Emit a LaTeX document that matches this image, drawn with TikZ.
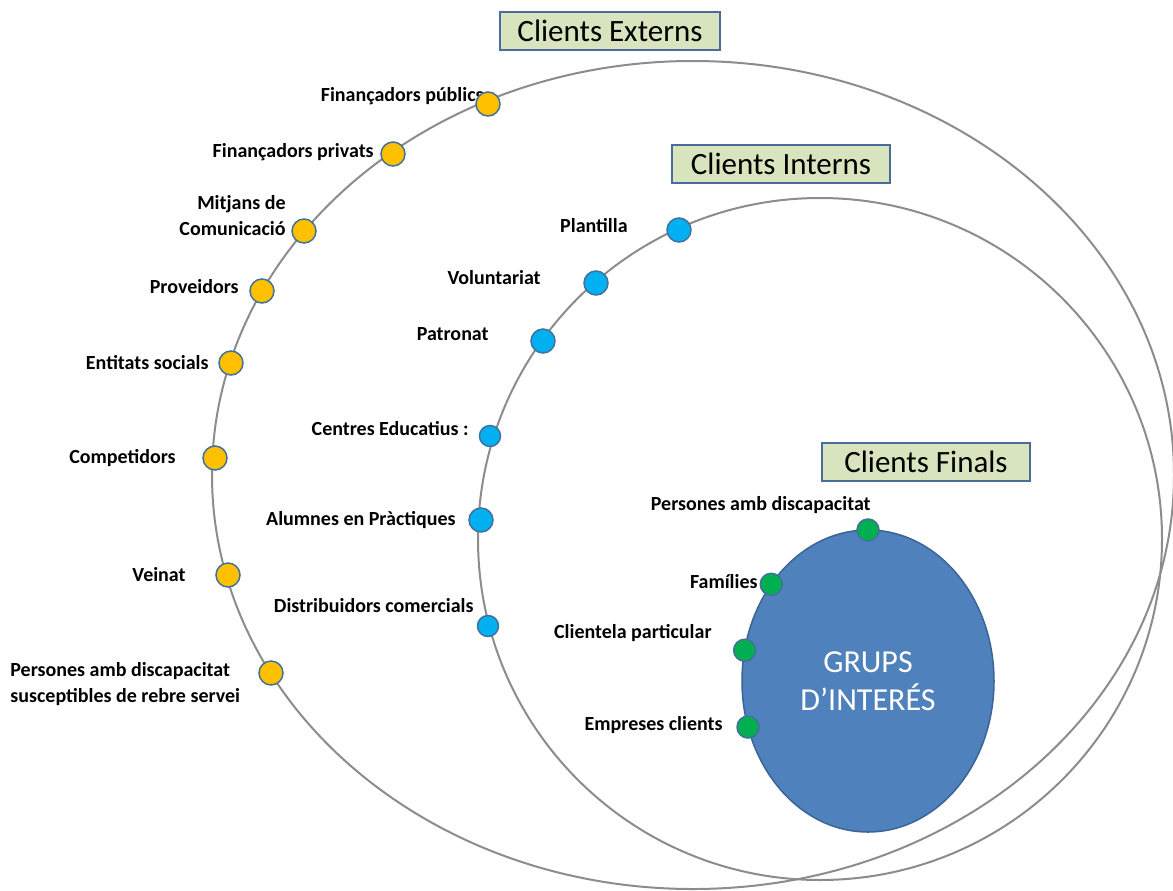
\documentclass[tikz,border=0pt]{standalone}
\usepackage{fontspec}
\setmainfont{Carlito}
\usetikzlibrary{shapes.geometric}

\definecolor{ringgray}{HTML}{8C8C8C}
\definecolor{dotyellow}{HTML}{FFC000}
\definecolor{dotblue}{HTML}{00B0F0}
\definecolor{dotgreen}{HTML}{00B050}
\definecolor{dotedge}{HTML}{41719C}
\definecolor{grupsfill}{HTML}{4F81BD}
\definecolor{grupsedge}{HTML}{3A6496}
\definecolor{boxfill}{HTML}{D8E4BD}
\definecolor{boxedge}{HTML}{4A6C9B}

\tikzset{
  ring/.style={draw=ringgray,line width=1pt},
  dot/.style={circle,draw=dotedge,line width=0.75pt,minimum size=12pt,inner sep=0pt,outer sep=0pt},
  ydot/.style={dot,fill=dotyellow},
  bdot/.style={dot,fill=dotblue},
  gdot/.style={dot,fill=dotgreen,minimum size=11pt},
  lbl/.style={font=\bfseries\fontsize{10}{13}\selectfont,inner sep=0pt,align=right},
  titlebox/.style={draw=boxedge,fill=boxfill,line width=1pt,font=\fontsize{15.5}{18}\selectfont,
    minimum height=19pt,inner sep=2pt}
}

\begin{document}
\begin{tikzpicture}[x=0.5pt,y=-0.5pt]
  \useasboundingbox (0,0) rectangle (1173,890);

  % Draw the two rings
  \draw[ring] (693,475) ellipse [x radius=481, y radius=414];
  \draw[ring] (820,539) ellipse [x radius=342, y radius=341];

  % Ring titles
  \node[titlebox,minimum width=110pt] (externs) at (610,31) {Clients Externs};
  \node[titlebox,minimum width=109pt] (interns) at (781,164) {Clients Interns};
  \node[titlebox,minimum width=104pt] (finals) at (926,462) {Clients Finals};

  % Clients Externs: labels and yellow dots
  \foreach \name/\px/\py/\lx/\ly/\txt in {
      fpub/488/104/484/96/{Finançadors públics},
      fpriv/393/154/374/152/{Finançadors privats},
      mitj/304/231/286/216/{Mitjans de\\Comunicació},
      prov/262/291/239/287/{Proveidors},
      entit/231/363/209/363/{Entitats socials},
      comp/215/458/176/458/{Competidors},
      vein/228/575/186/575/{Veinat}} {
    \node[lbl,anchor=east] (l\name) at (\lx,\ly) {\txt};
    \node[ydot] (\name) at (\px,\py) {};
  }
  \node[lbl,anchor=west,align=left] (lpers) at (10,684)
    {Persones amb discapacitat\\susceptibles de rebre servei};
  \node[ydot] (pers) at (271,673) {};

  % Clients Interns: labels and blue dots
  \foreach \name/\px/\py/\lx/\ly/\txt in {
      plant/679/230/628/226/{Plantilla},
      volun/596/283/541/278/{Voluntariat},
      patr/543/341/489/334/{Patronat},
      alum/481/520/456/520/{Alumnes en Pràctiques}} {
    \node[lbl,anchor=east] (l\name) at (\lx,\ly) {\txt};
    \node[bdot] (\name) at (\px,\py) {};
  }
  \node[lbl,anchor=east] (lcentr) at (469,429) {Centres Educatius :};
  \node[bdot,minimum size=10.5pt] (centr) at (490,436) {};
  \node[lbl,anchor=east] (ldistr) at (474,606) {Distribuidors comercials};
  \node[bdot,minimum size=10.5pt] (distr) at (488,626) {};

  % Clients Finals: the core and green dots
  \node[ellipse,draw=grupsedge,line width=0.75pt,fill=grupsfill,minimum width=126pt,
    minimum height=151pt,inner sep=0pt,outer sep=0pt,text=white,align=center,
    font=\fontsize{16}{18}\selectfont] (grups) at (868,681) {GRUPS\\[1pt]D’INTERÉS};
  \node[gdot] (pdisc) at (grups.90) {};
  \node[gdot] (famil) at (grups.135) {};
  \node[gdot] (clien) at (grups.166) {};
  \node[gdot] (empr) at (grups.201) {};
  \node[lbl,anchor=east] (lpdisc) at (871,505) {Persones amb discapacitat};
  \node[lbl,anchor=east] (lfamil) at (758,582) {Famílies};
  \node[lbl,anchor=east] (lclien) at (712,633) {Clientela particular};
  \node[lbl,anchor=east] (lempr) at (723,725) {Empreses clients};
\end{tikzpicture}
\end{document}
